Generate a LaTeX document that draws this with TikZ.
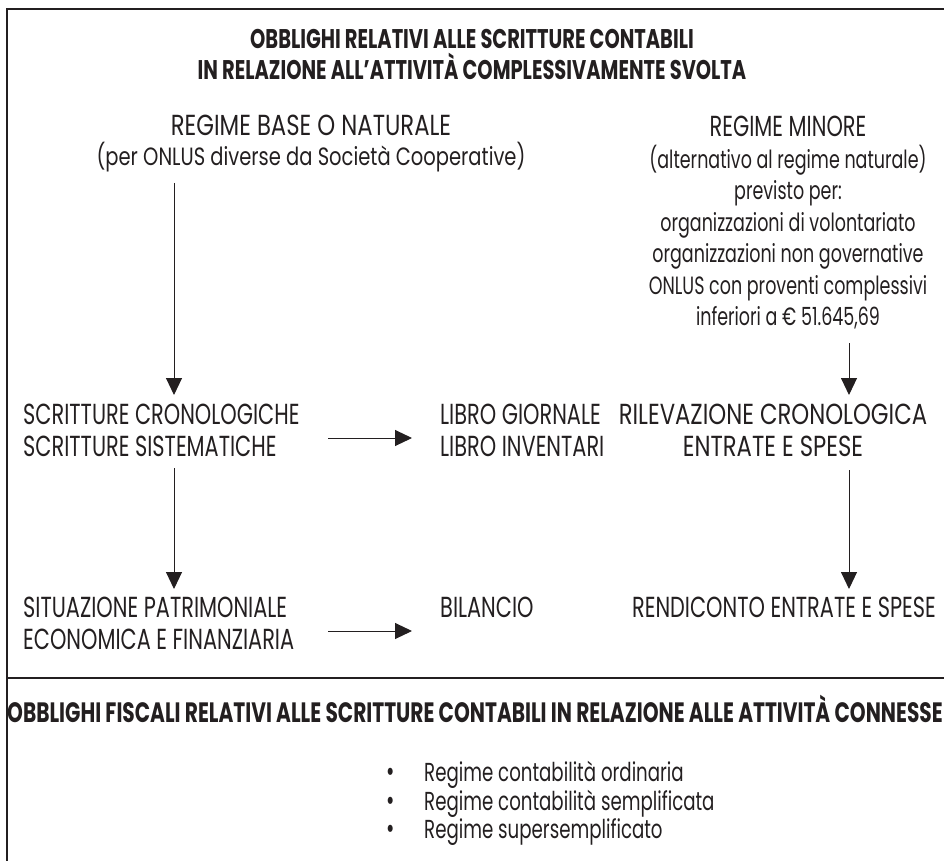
\documentclass[tikz,border=0pt]{standalone}
\usepackage{fontspec}
\setmainfont[FakeStretch=0.72]{Poppins}
\newfontfamily\lcfont[FakeStretch=0.70]{Poppins}
\newfontfamily\wfont[FakeStretch=0.785]{Poppins}
\newfontfamily\wlcfont[FakeStretch=0.78]{Poppins}
\usetikzlibrary{arrows.meta}
\definecolor{ink}{HTML}{231F20}
\tikzset{
  frameline/.style={line width=1.4pt, draw=ink},
  arr/.style={line width=1pt, draw=ink, -{Triangle[length=17pt,width=16pt]}},
  txt/.style={inner sep=0pt, text=ink, font=\fontsize{29}{32}\selectfont},
  ttl/.style={inner sep=0pt, text=ink, font=\bfseries\fontsize{27}{31}\selectfont},
  blt/.style={inner sep=0pt, text=ink, font=\lcfont\fontsize{26}{25}\selectfont}
}
\newcommand{\lcs}{\lcfont\fontsize{25}{31.5}\selectfont}
\newcommand{\lct}{\wlcfont\fontsize{25}{30}\selectfont}
\newcommand{\bigdot}{\makebox[38pt][l]{\fontsize{29}{10}\selectfont\textbullet}}
\begin{document}
\begin{tikzpicture}[x=1pt,y=-1pt]
\useasboundingbox (0,0) rectangle (944,861);
% frame
\draw[frameline] (944,9) -- (7,9) -- (7,861);
\draw[frameline] (7,678) -- (944,678);
% title
\node[ttl, align=center, anchor=base] (title) at (472,79.5)
  {OBBLIGHI RELATIVI ALLE SCRITTURE CONTABILI\\IN RELAZIONE ALL’ATTIVITÀ COMPLESSIVAMENTE SVOLTA};
% left top
\node[txt, align=center, anchor=base, font=\wfont\fontsize{29}{30}\selectfont] (base) at (311,165.5)
  {REGIME BASE O NATURALE\\{\lct (per ONLUS diverse da Società Cooperative)}};
% right top
\node[txt, align=center, anchor=base, font=\fontsize{29}{31.5}\selectfont] (minore) at (788,325.5)
  {REGIME MINORE\\{\lcs (alternativo al regime naturale)}\\{\lcs previsto per:}\\{\lcs organizzazioni di volontariato}\\{\lcs organizzazioni non governative}\\{\lcs ONLUS con proventi complessivi}\\{\lcs inferiori a € 51.645,69}};
% middle row
\node[txt, align=left, anchor=base west] (scr) at (23,456.5)
  {SCRITTURE CRONOLOGICHE\\SCRITTURE SISTEMATICHE};
\node[txt, align=left, anchor=base west] (libro) at (440,456.5)
  {LIBRO GIORNALE\\LIBRO INVENTARI};
\node[txt, align=center, anchor=base, font=\wfont\fontsize{29}{32}\selectfont] (ril) at (773,456.5)
  {RILEVAZIONE CRONOLOGICA\\ENTRATE E SPESE};
% bottom row
\node[txt, align=left, anchor=base west] (sit) at (23,649.5)
  {SITUAZIONE PATRIMONIALE\\ECONOMICA E FINANZIARIA};
\node[txt, anchor=base west] (bil) at (440,617.5) {BILANCIO};
\node[txt, anchor=base] (rend) at (784,617.5) {RENDICONTO ENTRATE E SPESE};
% lower section
\node[ttl, anchor=base west, font=\bfseries\fontsize{28}{31}\selectfont] (fisc) at (7,722)
  {OBBLIGHI FISCALI RELATIVI ALLE SCRITTURE CONTABILI IN RELAZIONE ALLE ATTIVITÀ CONNESSE};
\node[blt, align=left, anchor=base west] (list) at (386,838)
  {\bigdot Regime contabilità ordinaria\\
   \bigdot Regime contabilità semplificata\\
   \bigdot Regime supersemplificato};
% arrow end points
\coordinate (l1s) at (174,183);
\coordinate (l1e) at (174,395);
\coordinate (r1s) at (849,343);
\coordinate (r1e) at (849,395);
\coordinate (l2s) at (174,468);
\coordinate (l2e) at (174,589);
\coordinate (r2s) at (849,470);
\coordinate (r2e) at (849,589);
\coordinate (h1s) at (328,438);
\coordinate (h1e) at (412,438);
\coordinate (h2s) at (328,631);
\coordinate (h2e) at (412,631);
\draw[arr] (l1s) -- (l1e);
\draw[arr] (r1s) -- (r1e);
\draw[arr] (l2s) -- (l2e);
\draw[arr] (r2s) -- (r2e);
\draw[arr] (h1s) -- (h1e);
\draw[arr] (h2s) -- (h2e);
\end{tikzpicture}
\end{document}
